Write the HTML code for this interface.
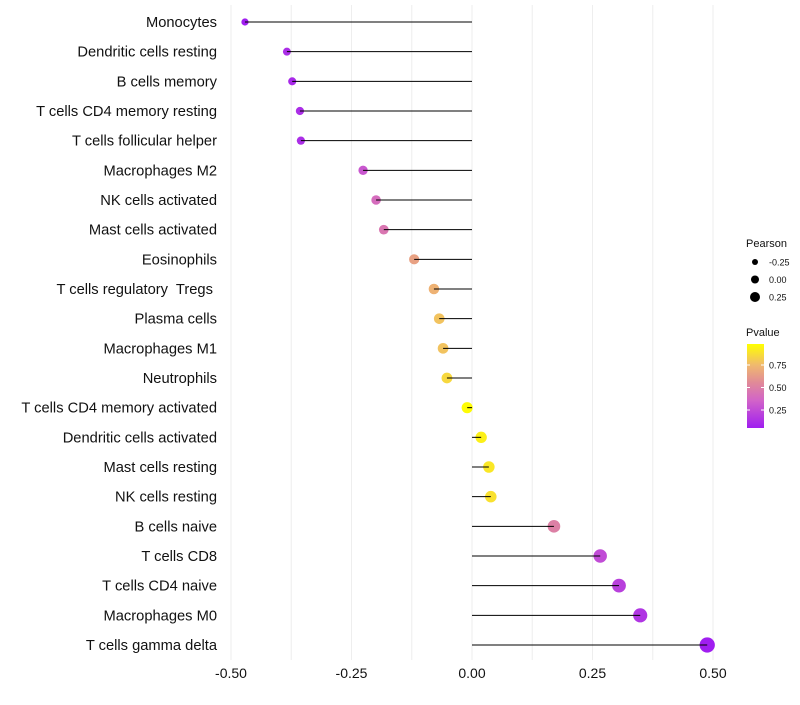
<!DOCTYPE html>
<html><head><meta charset="utf-8"><style>
body{margin:0;background:#fff;}
svg{font-family:"Liberation Sans",sans-serif;}
text{white-space:pre;}
</style></head><body>
<svg id="chart" width="800" height="700"></svg>
<script>
const categories=["Monocytes","Dendritic cells resting","B cells memory","T cells CD4 memory resting","T cells follicular helper","Macrophages M2","NK cells activated","Mast cells activated","Eosinophils","T cells regulatory  Tregs ","Plasma cells","Macrophages M1","Neutrophils","T cells CD4 memory activated","Dendritic cells activated","Mast cells resting","NK cells resting","B cells naive","T cells CD8","T cells CD4 naive","Macrophages M0","T cells gamma delta"];
const pearson=[-0.471,-0.384,-0.373,-0.357,-0.355,-0.226,-0.199,-0.183,-0.120,-0.079,-0.068,-0.060,-0.052,-0.010,0.019,0.035,0.039,0.170,0.266,0.305,0.349,0.488];
const pvalue=[0.05,0.12,0.1,0.12,0.12,0.3,0.4,0.45,0.65,0.72,0.78,0.78,0.85,0.97,0.93,0.9,0.88,0.5,0.25,0.2,0.15,0.03];
const xTicks=[-0.5,-0.25,0,0.25,0.5];
const xTickLabels=["-0.50","-0.25","0.00","0.25","0.50"];
const sizeLegend=[-0.25,0,0.25];
const sizeLegendLabels=["-0.25","0.00","0.25"];
const colorLegend=[0.25,0.5,0.75];
const colorLegendLabels=["0.25","0.50","0.75"];

const NS="http://www.w3.org/2000/svg";
const svg=document.getElementById('chart');
function mk(t,a,p){const e=document.createElementNS(NS,t);for(const k in a)e.setAttribute(k,a[k]);(p||svg).appendChild(e);return e;}
const x=v=>472+v*482;
const y=i=>22+i*(623/21);
const r=v=>Math.max(2,5.6+4.2*v);
const stops=[[0,[160,30,240]],[0.33,[210,100,200]],[0.55,[225,140,150]],[0.75,[240,185,110]],[1,[255,255,0]]];
function colT(t){t=Math.min(1,Math.max(0,t));for(let k=1;k<stops.length;k++){if(t<=stops[k][0]){const [t0,a]=stops[k-1],[t1,b]=stops[k];const f=(t-t0)/(t1-t0);return `rgb(${a.map((c,i)=>Math.round(c+(b[i]-c)*f)).join(',')})`;}}return 'rgb(255,255,0)';}
const col=p=>colT((p-0.05)/0.93);
for(let v=-0.5;v<=0.5001;v+=0.125){const g=mk('line',{x1:x(v),x2:x(v),y1:5,y2:660,stroke:'#eeeeee','stroke-width':1});

}
xTicks.forEach((v,i)=>{const t=mk('text',{x:x(v),y:678,'text-anchor':'middle','font-size':14,fill:'#111'});t.textContent=xTickLabels[i];

});
categories.forEach((c,i)=>{
 const t=mk('text',{x:217,y:y(i)+5,'text-anchor':'end','font-size':14.7,fill:'#111'});t.textContent=c;
 
 
 const d=mk('circle',{cx:x(pearson[i]),cy:y(i),r:r(pearson[i]),fill:col(pvalue[i])});
 
 
 const l=mk('line',{x1:x(0),x2:x(pearson[i]),y1:y(i),y2:y(i),stroke:'#000','stroke-width':1});
 
 
});
let t=mk('text',{x:746,y:247,'font-size':11,fill:'#111'});t.textContent='Pearson';


sizeLegend.forEach((v,i)=>{const cy=262+i*17.5;
 const c=mk('circle',{cx:755,cy:cy,r:4+v*4,fill:'#000'});
 
 
 const tt=mk('text',{x:769,y:cy+3.5,'font-size':9,fill:'#111'});tt.textContent=sizeLegendLabels[i];
 
 });
t=mk('text',{x:746,y:336,'font-size':11,fill:'#111'});t.textContent='Pvalue';


const defs=mk('defs',{});const gr=mk('linearGradient',{id:'pg',x1:0,y1:1,x2:0,y2:0},defs);
stops.forEach(s=>mk('stop',{offset:s[0],'stop-color':`rgb(${s[1].join(',')})`},gr));
const bar=mk('rect',{x:747,y:344,width:17,height:84,fill:'url(#pg)'});


colorLegend.forEach((v,i)=>{const cy=410-(v-0.25)*90;
 mk('line',{x1:747,x2:750,y1:cy,y2:cy,stroke:'#fff'});mk('line',{x1:761,x2:764,y1:cy,y2:cy,stroke:'#fff'});
 const tt=mk('text',{x:769,y:cy+3.5,'font-size':9,fill:'#111'});tt.textContent=colorLegendLabels[i];
 
 });
</script>
</body></html>
